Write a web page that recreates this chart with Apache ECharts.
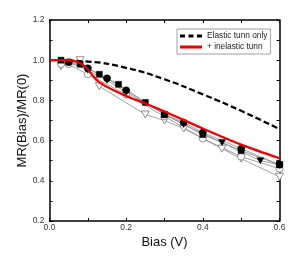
<!DOCTYPE html>
<html><head><meta charset="utf-8">
<script src="https://cdn.jsdelivr.net/npm/echarts@6/dist/echarts.min.js"></script>
<style>html,body{margin:0;padding:0;background:#fff}#c{width:305px;height:265px}</style>
</head><body><div id="c"></div>
<script>
var xTicks = [0.0, 0.2, 0.4, 0.6];
var yTicks = [0.2, 0.4, 0.6, 0.8, 1.0, 1.2];

var elasticX = [0, 0.1, 0.2, 0.3, 0.4, 0.5, 0.6];
var elasticY = [1.0, 0.993, 0.962, 0.905, 0.83, 0.748, 0.657];

var inelX = [0, 0.05, 0.08, 0.097, 0.13, 0.2, 0.25, 0.3, 0.4, 0.5, 0.6];
var inelY = [1.0, 1.0, 0.985, 0.96, 0.89, 0.822, 0.785, 0.745, 0.66, 0.58, 0.512];

var sqX = [0.03, 0.08, 0.13, 0.18, 0.25, 0.30, 0.40, 0.50, 0.60];
var sqY = [1.0, 0.98, 0.93, 0.88, 0.79, 0.73, 0.63, 0.55, 0.48];
var ciX = [0.05, 0.10, 0.15, 0.20, 0.30, 0.35, 0.40, 0.50, 0.60];
var ciY = [0.99, 0.96, 0.91, 0.85, 0.73, 0.69, 0.64, 0.56, 0.48];
var trX = [0.05, 0.10, 0.15, 0.20, 0.35, 0.45, 0.55, 0.60];
var trY = [0.99, 0.95, 0.90, 0.84, 0.68, 0.59, 0.50, 0.48];
var ocX = [0.03, 0.05, 0.10, 0.20, 0.30, 0.40, 0.50, 0.60];
var ocY = [0.98, 0.98, 0.93, 0.83, 0.72, 0.61, 0.52, 0.46];
var otX = [0.03, 0.08, 0.13, 0.25, 0.30, 0.35, 0.45, 0.50, 0.60];
var otY = [0.97, 1.0, 0.87, 0.73, 0.70, 0.66, 0.56, 0.51, 0.42];

function pairs(xs, ys){ return xs.map(function(x,i){return [x, ys[i]];}); }

var triPath = 'path://M0,0 L10,0 L5,9 Z';
function dataSeries(xs, ys, symbol, filled, size){
  return {
    type:'line', data: pairs(xs, ys), symbol: symbol, symbolSize: size,
    showSymbol:true, silent:true, z:2,
    lineStyle:{color:'#8a8a8a', width:0.8},
    itemStyle: filled ? {color:'#000', borderColor:'#000', borderWidth:0.5}
                      : {color:'#fff', borderColor:'#777', borderWidth:0.8}
  };
}

var font = 'Liberation Sans, Arial, sans-serif';
var axisCommon = {
  axisLine:{show:true, onZero:false, lineStyle:{color:'#000', width:1.5}},
  axisTick:{show:true, inside:true, length:3, lineStyle:{color:'#000', width:1}},
  minorTick:{show:true, splitNumber:2, length:3, lineStyle:{color:'#000', width:1}},
  splitLine:{show:false}
};
function ax(extra){ return Object.assign({}, axisCommon, extra); }

var chart = echarts.init(document.getElementById('c'), null, {renderer:'canvas'});
chart.setOption({
  animation:false,
  backgroundColor:'#fff',
  grid:{left:49.5, right:25.5, top:20, bottom:44, containLabel:false},
  legend:{
    show:true, left:177, top:29, orient:'vertical', itemGap:3,
    itemWidth:22, itemHeight:3,
    backgroundColor:'#fff', borderColor:'#888', borderWidth:0.8, padding:[3,3,3,3],
    textStyle:{fontSize:8.3, fontFamily:font, color:'#222'},
    data:[{name:'Elastic tunn only', icon:'path://M0,0h5v3h-5z M8.5,0h5v3h-5z M17,0h5v3h-5z'},
          {name:'+ inelastic tunn', icon:'path://M0,0 L22,0 L22,3 L0,3 Z'}]
  },
  xAxis:[ax({
    type:'value', min:0, max:0.6, interval:0.2,
    name:'Bias (V)', nameLocation:'middle', nameGap:15, nameMoveOverlap:false,
    nameTextStyle:{fontSize:13, fontFamily:font, color:'#111'},
    axisLabel:{fontSize:8.5, fontFamily:font, color:'#333', margin:2,
      formatter:function(v){return v.toFixed(1);}}
  }), ax({
    type:'value', position:'top', min:0, max:0.6, interval:0.2,
    axisLabel:{show:false}
  })],
  yAxis:[ax({
    type:'value', min:0.2, max:1.2, interval:0.2,
    name:'MR(Bias)/MR(0)', nameLocation:'middle', nameGap:21, nameRotate:90, nameMoveOverlap:false,
    nameTextStyle:{fontSize:13, fontFamily:font, color:'#111'},
    axisLabel:{fontSize:8.5, fontFamily:font, color:'#333', margin:5,
      formatter:function(v){return v.toFixed(1);}}
  }), ax({
    type:'value', position:'right', min:0.2, max:1.2, interval:0.2,
    axisLabel:{show:false}
  })],
  series:[
    dataSeries(otX, otY, triPath, false, [8,7]),
    dataSeries(ocX, ocY, 'circle', false, 7),
    dataSeries(trX, trY, triPath, true, [7,6]),
    dataSeries(sqX, sqY, 'rect', true, 6),
    dataSeries(ciX, ciY, 'circle', true, 7),
    {name:'Elastic tunn only', type:'line', data:pairs(elasticX, elasticY), smooth:true,
     symbol:'none', z:3, lineStyle:{color:'#000', width:2.2, type:[6,3]}, itemStyle:{color:'#000'}},
    {name:'+ inelastic tunn', type:'line', data:pairs(inelX, inelY), smooth:0.3,
     symbol:'none', z:4, lineStyle:{color:'#ee0000', width:2.2}, itemStyle:{color:'#ee0000'}}
  ]
});
</script></body></html>
